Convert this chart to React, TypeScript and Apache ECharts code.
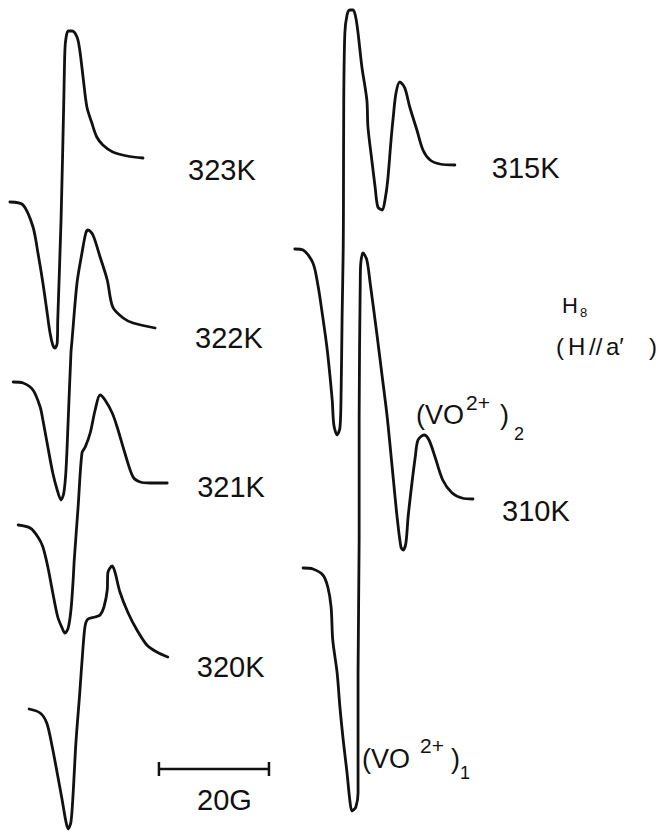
import React, { useEffect, useRef } from "react";
import * as echarts from "echarts";

// Magnetic field (G, relative) and derivative signal (a.u., stacked)
const FIELD_323K = [1.8, 4.2, 6.0, 6.9, 7.8, 8.5, 9.1, 9.6, 10.0, 10.4, 10.5, 11.1, 11.6, 11.8, 12.0, 12.4, 13.1, 14.0, 14.5, 15.1, 15.8, 16.7, 17.6, 18.7, 20.5, 23.1, 26.0];
const SIGNAL_323K = [630, 627, 605, 579, 549, 522, 499, 487, 484, 489, 512, 612, 732, 782, 794, 801, 801, 795, 782, 755, 725, 709, 695, 687, 680, 676, 674];

const FIELD_322K = [2.4, 4.2, 6.0, 7.3, 7.8, 8.7, 9.6, 10.4, 11.1, 11.6, 12.0, 12.4, 12.9, 13.1, 14.0, 14.9, 15.6, 16.0, 16.9, 18.2, 19.5, 20.5, 22.4, 24.2, 28.2];
const SIGNAL_322K = [450, 449, 442, 425, 412, 385, 359, 342, 332, 339, 362, 412, 479, 492, 549, 579, 599, 602, 597, 575, 552, 525, 514, 509, 504];

const FIELD_321K = [3.3, 5.5, 6.9, 7.8, 8.7, 9.6, 10.5, 11.3, 11.8, 12.4, 12.9, 13.3, 13.5, 14.2, 14.9, 15.5, 16.4, 17.3, 18.2, 19.1, 20.4, 21.3, 22.7, 24.2, 25.5, 27.3, 30.4];
const SIGNAL_321K = [307, 304, 295, 285, 265, 239, 215, 204, 199, 204, 222, 252, 272, 325, 379, 385, 399, 422, 437, 432, 419, 405, 379, 355, 350, 349, 349];

const FIELD_320K = [5.3, 7.3, 8.5, 9.5, 10.4, 11.3, 12.0, 12.4, 12.9, 13.3, 13.8, 14.5, 15.1, 15.5, 16.0, 17.3, 18.2, 18.9, 19.5, 19.6, 20.4, 20.9, 21.8, 23.3, 24.9, 26.7, 28.5, 30.5];
const SIGNAL_320K = [123, 119, 109, 85, 59, 32, 10, 3, 10, 39, 89, 139, 185, 207, 213, 215, 217, 225, 242, 259, 266, 260, 240, 219, 202, 187, 180, 175];

const FIELD_315K = [53.6, 55.1, 56.9, 57.8, 58.5, 59.5, 60.4, 60.7, 61.3, 61.8, 62.0, 62.2, 62.4, 62.45, 62.5, 62.7, 63.1, 63.6, 64.2, 64.7, 65.1, 65.8, 66.7, 66.9, 67.6, 68.2, 68.7, 69.5, 70.0, 70.5, 71.1, 71.5, 72.0, 72.7, 73.6, 74.5, 75.8, 76.9, 78.2, 80.0, 82.7];
const SIGNAL_315K = [583, 582, 569, 547, 522, 482, 432, 407, 397, 404, 432, 515, 582, 632, 732, 799, 817, 822, 822, 814, 799, 765, 732, 705, 672, 645, 625, 622, 632, 652, 692, 715, 739, 750, 744, 725, 702, 682, 672, 668, 667];

const FIELD_310K = [55.1, 56.9, 58.7, 59.6, 60.2, 60.5, 61.3, 61.8, 62.4, 63.1, 63.6, 64.0, 64.7, 65.1, 65.1, 65.3, 65.3, 65.5, 65.6, 66.0, 66.7, 67.3, 68.5, 69.5, 70.4, 71.3, 72.2, 72.9, 73.3, 73.8, 74.2, 74.9, 75.5, 76.0, 77.1, 78.0, 79.1, 80.5, 82.2, 84.0, 86.0];
const SIGNAL_310K = [264, 263, 257, 245, 225, 192, 159, 125, 92, 59, 32, 21, 25, 39, 159, 292, 415, 549, 569, 579, 572, 549, 499, 455, 415, 365, 315, 285, 282, 289, 315, 349, 375, 392, 397, 392, 375, 352, 339, 334, 333];

const TEMPERATURES = ["323K", "322K", "321K", "320K", "315K", "310K"];

// Scale bar: 20 G
const SCALE_BAR_START_G = 28.9;
const SCALE_BAR_LENGTH_G = 20;
const SCALE_BAR_LEVEL = 63;
const SCALE_BAR_LABEL = "20G";

// Layout (pixel offsets of the end labels relative to the trace ends)
const LABEL_OFFSETS: Record<string, [number, number]> = {
  "323K": [45, 12],
  "322K": [40, 10],
  "321K": [30, 4],
  "320K": [29, 10],
  "315K": [37, 3],
  "310K": [29, 12],
};

const FONT = "Liberation Sans";
const INK = "#111";

function zip(xs: number[], ys: number[]) {
  return xs.map((x, i) => [x, ys[i]]);
}

const TRACE_DATA: Record<string, number[][]> = {
  "323K": zip(FIELD_323K, SIGNAL_323K),
  "322K": zip(FIELD_322K, SIGNAL_322K),
  "321K": zip(FIELD_321K, SIGNAL_321K),
  "320K": zip(FIELD_320K, SIGNAL_320K),
  "315K": zip(FIELD_315K, SIGNAL_315K),
  "310K": zip(FIELD_310K, SIGNAL_310K),
};

function txt(text: string, x: number, y: number, size: number) {
  return {
    type: "text",
    x,
    y,
    silent: true,
    style: {
      text,
      fill: INK,
      font: `${size}px "${FONT}"`,
      textAlign: "left",
      textVerticalAlign: "middle",
    },
  };
}

export default function App() {
  const ref = useRef<HTMLDivElement>(null);

  useEffect(() => {
    if (!ref.current) return;
    const chart = echarts.init(ref.current, undefined, { renderer: "svg" });

    const traceSeries = TEMPERATURES.map((t) => ({
      name: t,
      type: "line",
      data: TRACE_DATA[t],
      smooth: 0.3,
      showSymbol: false,
      symbol: "none",
      clip: false,
      silent: true,
      lineStyle: { color: INK, width: 2.8, cap: "round", join: "round" },
      endLabel: {
        show: true,
        formatter: t,
        color: INK,
        fontSize: 29,
        fontFamily: FONT,
        align: "left",
        verticalAlign: "middle",
        distance: 0,
        offset: LABEL_OFFSETS[t],
      },
    }));

    const scaleBar = {
      name: "scale",
      type: "line",
      data: [
        [SCALE_BAR_START_G, SCALE_BAR_LEVEL],
        [SCALE_BAR_START_G + SCALE_BAR_LENGTH_G, SCALE_BAR_LEVEL],
      ],
      showSymbol: true,
      symbol: "rect",
      symbolSize: [2.5, 14],
      itemStyle: { color: INK },
      lineStyle: { color: INK, width: 2.5 },
      clip: false,
      silent: true,
    };

    chart.setOption({
      animation: false,
      backgroundColor: "#ffffff",
      grid: { left: 0, right: 0, top: 0, bottom: 0 },
      xAxis: { type: "value", min: 0, max: 120, show: false },
      yAxis: { type: "value", min: 0, max: 832, show: false },
      tooltip: { show: false },
      series: [...traceSeries, scaleBar],
      graphic: [
        txt(SCALE_BAR_LABEL, 197, 800, 29),
        // (VO2+)2
        txt("(VO", 416, 415, 27),
        txt("2+", 466, 402, 21),
        txt(")", 500, 415, 27),
        txt("2", 514, 434, 18),
        // (VO2+)1
        txt("(VO", 362, 759, 27),
        txt("2+", 420, 745, 21),
        txt(")", 451, 759, 27),
        txt("1", 460, 773, 18),
        // H8 (H//a')
        txt("H", 562, 305, 22),
        txt("8", 580, 312, 13),
        txt("(", 556, 346, 24),
        txt("H", 568, 346, 24),
        txt("//", 589, 346, 24),
        txt("a′", 606, 346, 24),
        txt(")", 649, 346, 24),
      ],
    });

    return () => chart.dispose();
  }, []);

  return (
    <div
      ref={ref}
      style={{ position: "absolute", left: 0, top: 0, width: 660, height: 832, background: "#fff" }}
    />
  );
}
